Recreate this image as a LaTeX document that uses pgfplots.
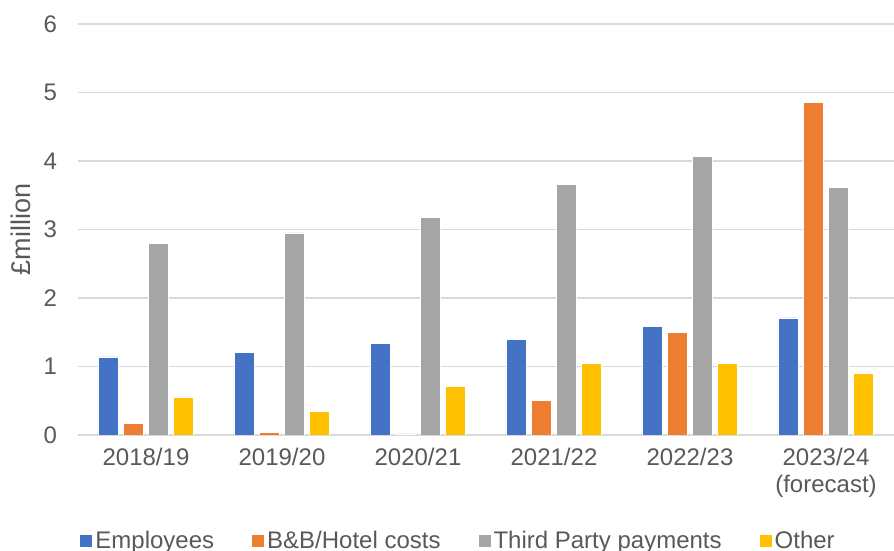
\documentclass[border=0pt]{standalone}
\usepackage{pgfplots}
\pgfplotsset{compat=1.18}
\usepackage{fontspec}
\setmainfont{Liberation Sans}
\definecolor{cEmp}{HTML}{4472C4}
\definecolor{cBB}{HTML}{ED7D31}
\definecolor{cTP}{HTML}{A5A5A5}
\definecolor{cOth}{HTML}{FFC000}
\definecolor{cGrid}{HTML}{D9D9D9}
\definecolor{cText}{HTML}{595959}
\begin{document}
\begin{tikzpicture}
\begin{axis}[
  scale only axis,
  width=408pt, height=205.5pt,
  xmin=-0.5, xmax=5.5, ymin=0, ymax=6,
  ybar=2.6pt, bar width=9.9pt,
  xtick={0,1,2,3,4,5},
  xticklabels={2018/19,2019/20,2020/21,2021/22,2022/23,{2023/24\\(forecast)}},
  xticklabel style={align=center, yshift=-3pt, font=\fontsize{12}{13.5}\selectfont, text=cText},
  ytick={0,1,2,3,4,5,6},
  yticklabel style={xshift=-7pt, font=\fontsize{12}{14}\selectfont, text=cText},
  /pgf/number format/assume math mode=true,
  major tick length=0pt,
  ymajorgrids, grid style={cGrid, line width=0.8pt},
  axis x line*=bottom, axis y line*=left,
  x axis line style={cGrid, line width=0.8pt, -},
  y axis line style={draw=none},
  ylabel={£million},
  every axis y label/.style={at={(axis description cs:-0.07,0.5)}, rotate=90, anchor=center, font=\fontsize{13.5}{15}\selectfont, text=cText},
  legend columns=4,
  legend style={at={(axis description cs:0.467,-0.258)}, anchor=center, draw=none, fill=none,
    font=\fontsize{12}{14}\selectfont, text=cText,
    /tikz/every even column/.append style={column sep=17.5pt},
    nodes={inner sep=1.5pt}},
  legend image code/.code={\path[#1, draw=none] (0pt,-3pt) rectangle (6pt,3pt);},
]
\addplot[fill=cEmp, draw=white, line width=0.3pt] coordinates {(0,1.14) (1,1.21) (2,1.34) (3,1.40) (4,1.59) (5,1.71)};
\addplot[fill=cBB, draw=white, line width=0.3pt] coordinates {(0,0.175) (1,0.04) (2,0.015) (3,0.51) (4,1.50) (5,4.85)};
\addplot[fill=cTP, draw=white, line width=0.3pt] coordinates {(0,2.80) (1,2.95) (2,3.18) (3,3.66) (4,4.07) (5,3.61)};
\addplot[fill=cOth, draw=white, line width=0.3pt] coordinates {(0,0.555) (1,0.34) (2,0.715) (3,1.05) (4,1.04) (5,0.905)};
\legend{Employees, B\&B/Hotel costs, Third Party payments, Other}
\end{axis}
\pgfresetboundingbox
\useasboundingbox (-39pt,-58pt) rectangle (408pt,217.5pt);
\end{tikzpicture}
\end{document}
